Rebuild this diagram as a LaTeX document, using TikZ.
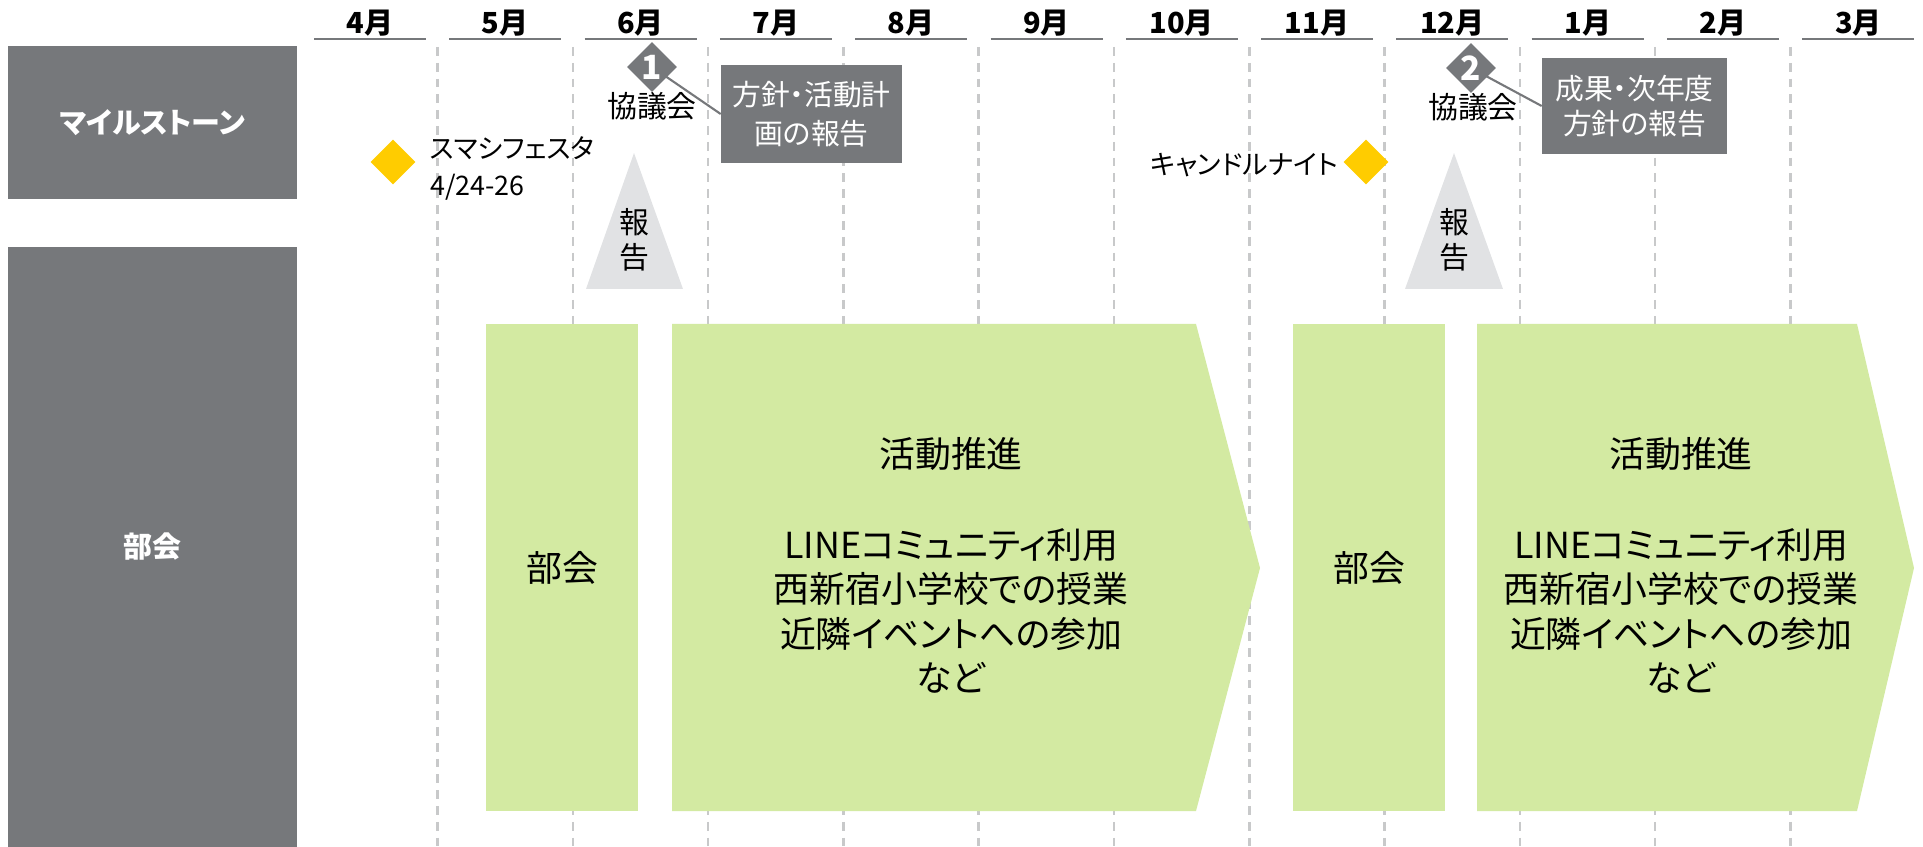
\documentclass[tikz,border=0pt]{standalone}
\usepackage{fontspec}
\setmainfont{Noto Sans CJK JP}[RawFeature=+palt]
\usetikzlibrary{shapes.geometric}
\definecolor{slate}{RGB}{118,120,123}
\definecolor{leaf}{RGB}{211,234,162}
\definecolor{sun}{RGB}{255,204,0}
\definecolor{mist}{RGB}{225,226,228}
\definecolor{guidegray}{RGB}{200,201,202}
\begin{document}
\begin{tikzpicture}[x=0.02cm, y=-0.02cm,
  rowhead/.style={fill=slate, text=white, inner sep=0, minimum width=5.78cm, font=\fontsize{16.5}{20}\selectfont\bfseries},
  month/.style={font=\fontsize{16.5}{20}\selectfont\bfseries},
  monthline/.style={slate, line width=1.5pt},
  guide/.style={guidegray, line width=1.4pt, dash pattern=on 5pt off 4pt},
  event/.style={diamond, fill=sun, inner sep=0, minimum size=0.9cm},
  council/.style={diamond, fill=slate, text=white, inner sep=0, minimum size=1cm, font=\fontsize{19}{20}\selectfont\bfseries},
  note/.style={fill=slate, text=white, inner sep=0, align=center},
  txt/.style={font=\fontsize{17}{20}\selectfont},
  link/.style={slate, line width=1.2pt},
  meeting/.style={fill=leaf, inner sep=0, minimum width=3.04cm, minimum height=9.74cm, font=\fontsize{20.4}{25}\selectfont},
  big/.style={font=\fontsize{20.4}{25.2}\selectfont, align=center}]
\useasboundingbox (0,0) rectangle (1923,847);

% month grid
\foreach \k in {0,...,10}
  \draw[guide] ({437.5+135.3*\k},47) -- ({437.5+135.3*\k},847);
\foreach \m [count=\i from 0] in {4,5,6,7,8,9,10,11,12,1,2,3} {
  \node[month](m\i) at ({370+135.3*\i},23) {\m 月};
  \draw[monthline] ({314+135.3*\i},39) -- ({426+135.3*\i},39);
}

% row headings
\node[rowhead, minimum height=3.06cm](milestone) at (152.5,122.5) {マイルストーン};
\node[rowhead, minimum height=12cm](bukai) at (152.5,547) {部会};

% milestones
\node[event](fes) at (393,162) {};
\node[txt, anchor=west, align=left, font=\fontsize{15.3}{21}\selectfont](festxt) at (424,168.5) {スマシフェスタ\\4/24-26};
\node[event](candle) at (1366,162) {};
\node[txt, anchor=east, font=\fontsize{15.3}{20}\selectfont](candletxt) at (1344,165) {キャンドルナイト};

\node[note, minimum width=3.62cm, minimum height=1.96cm, font=\fontsize{16.4}{22}\selectfont](plan1) at (811.5,114) {方針・活動計\\画の報告};
\node[note, minimum width=3.7cm, minimum height=1.92cm, font=\fontsize{16.4}{20}\selectfont](plan2) at (1634.5,106) {成果・次年度\\方針の報告};
\draw[link] (652,67) -- (plan1.west);
\draw[link] (1471,68) -- (plan2.west);
\node[council](dia1) at (652,67) {1};
\node[council](dia2) at (1471,68) {2};
\node[txt](kyo1) at (652,106) {協議会};
\node[txt](kyo2) at (1473,107) {協議会};

% reports
\fill[mist] (586,289) -- (634,153) -- (683,289) -- cycle;
\fill[mist] (1405,289) -- (1454,153) -- (1503,289) -- cycle;
\node[txt, align=center](rep1) at (634,240) {報\\告};
\node[txt, align=center](rep2) at (1454,240) {報\\告};

% meetings and activities
\node[meeting](meet1) at (562,567.5) {部会};
\node[meeting](meet2) at (1369,567.5) {部会};
\fill[leaf] (672,324) -- (1196,324) -- (1260,568) -- (1196,811) -- (672,811) -- cycle;
\fill[leaf] (1477,324) -- (1857,324) -- (1914,568) -- (1857,811) -- (1477,811) -- cycle;
\node[big](act1) at (951,454) {活動推進};
\node[big](list1) at (951,611) {LINEコミュニティ利用\\西新宿小学校での授業\\近隣イベントへの参加\\など};
\node[big](act2) at (1681,454) {活動推進};
\node[big](list2) at (1681,611) {LINEコミュニティ利用\\西新宿小学校での授業\\近隣イベントへの参加\\など};

\end{tikzpicture}
\end{document}
